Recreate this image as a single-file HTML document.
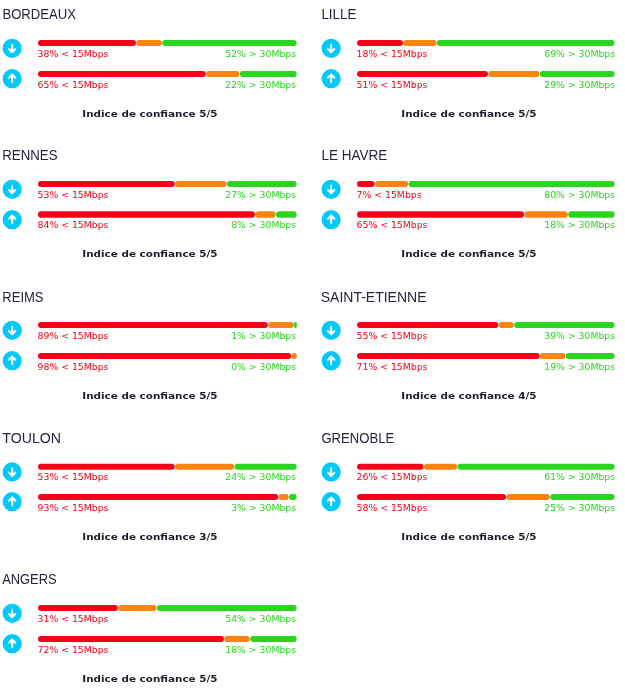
<!DOCTYPE html><html lang="fr"><head><meta charset="utf-8"><title>Débits</title><style>
html,body{margin:0;padding:0;background:#fff;}
body{width:625px;height:689px;position:relative;overflow:hidden;font-family:"DejaVu Sans","Liberation Sans",sans-serif;}
.c{position:absolute;width:306px;height:124px;}
.c svg{position:absolute;left:0;top:0;width:306px;height:100px;}
.t{position:absolute;left:1.5px;top:5.4px;font:14px/18px "Liberation Sans",sans-serif;color:#23263a;white-space:nowrap;transform-origin:0 50%;}
.r{fill:#f70018;}
.o{fill:#f9840f;}
.g{fill:#2bd420;}
.k{fill:#02c8fc;}
.a{stroke:#fff;stroke-width:2;fill:none;stroke-linecap:round;stroke-linejoin:round;}
.l{position:absolute;font:9.3px/11px "DejaVu Sans",sans-serif;white-space:nowrap;}
.lr{left:37.6px;color:#f70018;}
.lg{right:9.9px;color:#2bd420;text-align:right;}
.ind{position:absolute;left:-0.7px;width:301px;text-align:center;top:106.8px;font:bold 9.4px/13px "DejaVu Sans",sans-serif;color:#1c1c28;}
.ind span{display:inline-block;transform:scaleX(1.11);}
</style></head><body>
<div class="c" style="left:0px;top:0px">
<div class="t" style="margin-top:0px;transform:translateX(0.40px) scaleX(0.9360)">BORDEAUX</div>
<svg viewBox="0 0 306 100"><circle class="k" cx="12.15" cy="48.30" r="9.6"/><path class="a" d="M12.15 44.70V52.30M8.95 49.00L12.15 52.30L15.35 49.00"/><rect class="r" x="38.00" y="40.00" width="97.96" height="6" rx="3.00"/><rect class="o" x="136.31" y="40.00" width="25.52" height="6" rx="3.00"/><rect class="g" x="162.18" y="40.00" width="134.52" height="6" rx="3.00"/><circle class="k" cx="12.15" cy="78.70" r="9.6"/><path class="a" d="M12.15 82.30V74.50M8.95 77.80L12.15 74.50L15.35 77.80"/><rect class="r" x="38.00" y="70.90" width="167.81" height="6" rx="3.00"/><rect class="o" x="206.16" y="70.90" width="33.28" height="6" rx="3.00"/><rect class="g" x="239.79" y="70.90" width="56.91" height="6" rx="3.00"/></svg>
<div class="l lr" style="top:47.9px">38% &lt; 15Mbps</div><div class="l lg" style="top:47.9px">52% &gt; 30Mbps</div>
<div class="l lr" style="top:78.7px">65% &lt; 15Mbps</div><div class="l lg" style="top:78.7px">22% &gt; 30Mbps</div>
<div class="ind" style="margin-top:0px"><span>Indice de confiance 5/5</span></div>
</div>
<div class="c" style="left:319px;top:0px">
<div class="t" style="margin-top:0px;transform:translateX(0.40px) scaleX(0.9600)">LILLE</div>
<svg viewBox="0 0 306 100"><circle class="k" cx="12.15" cy="48.30" r="9.6"/><path class="a" d="M12.15 44.70V52.30M8.95 49.00L12.15 52.30L15.35 49.00"/><rect class="r" x="38.00" y="40.00" width="46.02" height="6" rx="3.00"/><rect class="o" x="84.37" y="40.00" width="33.14" height="6" rx="3.00"/><rect class="g" x="117.86" y="40.00" width="177.74" height="6" rx="3.00"/><circle class="k" cx="12.15" cy="78.70" r="9.6"/><path class="a" d="M12.15 82.30V74.50M8.95 77.80L12.15 74.50L15.35 77.80"/><rect class="r" x="38.00" y="70.90" width="131.03" height="6" rx="3.00"/><rect class="o" x="169.38" y="70.90" width="51.17" height="6" rx="3.00"/><rect class="g" x="220.90" y="70.90" width="74.70" height="6" rx="3.00"/></svg>
<div class="l lr" style="top:47.9px">18% &lt; 15Mbps</div><div class="l lg" style="top:47.9px">69% &gt; 30Mbps</div>
<div class="l lr" style="top:78.7px">51% &lt; 15Mbps</div><div class="l lg" style="top:78.7px">29% &gt; 30Mbps</div>
<div class="ind" style="margin-top:0px"><span>Indice de confiance 5/5</span></div>
</div>
<div class="c" style="left:0px;top:141px">
<div class="t" style="margin-top:0px;transform:translateX(0.30px) scaleX(0.9460)">RENNES</div>
<svg viewBox="0 0 306 100"><circle class="k" cx="12.15" cy="48.30" r="9.6"/><path class="a" d="M12.15 44.70V52.30M8.95 49.00L12.15 52.30L15.35 49.00"/><rect class="r" x="38.00" y="40.00" width="136.76" height="6" rx="3.00"/><rect class="o" x="175.11" y="40.00" width="51.39" height="6" rx="3.00"/><rect class="g" x="226.85" y="40.00" width="69.85" height="6" rx="3.00"/><circle class="k" cx="12.15" cy="78.70" r="9.6"/><path class="a" d="M12.15 82.30V74.50M8.95 77.80L12.15 74.50L15.35 77.80"/><rect class="r" x="38.00" y="70.15" width="216.96" height="6.7" rx="3.35"/><rect class="o" x="255.31" y="70.15" width="20.35" height="6.7" rx="3.35"/><rect class="g" x="276.00" y="70.15" width="20.70" height="6.7" rx="3.35"/></svg>
<div class="l lr" style="top:47.9px">53% &lt; 15Mbps</div><div class="l lg" style="top:47.9px">27% &gt; 30Mbps</div>
<div class="l lr" style="top:77.7px">84% &lt; 15Mbps</div><div class="l lg" style="top:77.7px">8% &gt; 30Mbps</div>
<div class="ind" style="margin-top:-1px"><span>Indice de confiance 5/5</span></div>
</div>
<div class="c" style="left:319px;top:141px">
<div class="t" style="margin-top:0px;transform:translateX(0.40px) scaleX(0.9640)">LE HAVRE</div>
<svg viewBox="0 0 306 100"><circle class="k" cx="12.15" cy="48.30" r="9.6"/><path class="a" d="M12.15 44.70V52.30M8.95 49.00L12.15 52.30L15.35 49.00"/><rect class="r" x="38.00" y="40.00" width="17.68" height="6" rx="3.00"/><rect class="o" x="56.03" y="40.00" width="33.14" height="6" rx="3.00"/><rect class="g" x="89.52" y="40.00" width="206.08" height="6" rx="3.00"/><circle class="k" cx="12.15" cy="78.70" r="9.6"/><path class="a" d="M12.15 82.30V74.50M8.95 77.80L12.15 74.50L15.35 77.80"/><rect class="r" x="38.00" y="70.15" width="167.09" height="6.7" rx="3.35"/><rect class="o" x="205.44" y="70.15" width="43.44" height="6.7" rx="3.35"/><rect class="g" x="249.23" y="70.15" width="46.37" height="6.7" rx="3.35"/></svg>
<div class="l lr" style="top:47.9px">7% &lt; 15Mbps</div><div class="l lg" style="top:47.9px">80% &gt; 30Mbps</div>
<div class="l lr" style="top:77.7px">65% &lt; 15Mbps</div><div class="l lg" style="top:77.7px">18% &gt; 30Mbps</div>
<div class="ind" style="margin-top:-1px"><span>Indice de confiance 5/5</span></div>
</div>
<div class="c" style="left:0px;top:282px">
<div class="t" style="margin-top:1px;transform:translateX(0.30px) scaleX(0.9300)">REIMS</div>
<svg viewBox="0 0 306 100"><circle class="k" cx="12.15" cy="48.30" r="9.6"/><path class="a" d="M12.15 44.70V52.30M8.95 49.00L12.15 52.30L15.35 49.00"/><rect class="r" x="38.00" y="40.00" width="229.89" height="6" rx="3.00"/><rect class="o" x="268.24" y="40.00" width="25.52" height="6" rx="3.00"/><rect class="g" x="294.11" y="40.00" width="2.59" height="6" rx="1.29"/><circle class="k" cx="12.15" cy="78.70" r="9.6"/><path class="a" d="M12.15 82.30V74.50M8.95 77.80L12.15 74.50L15.35 77.80"/><rect class="r" x="38.00" y="70.90" width="253.18" height="6" rx="3.00"/><rect class="o" x="291.53" y="70.90" width="5.17" height="6" rx="2.59"/></svg>
<div class="l lr" style="top:47.9px">89% &lt; 15Mbps</div><div class="l lg" style="top:47.9px">1% &gt; 30Mbps</div>
<div class="l lr" style="top:78.7px">98% &lt; 15Mbps</div><div class="l lg" style="top:78.7px">0% &gt; 30Mbps</div>
<div class="ind" style="margin-top:0px"><span>Indice de confiance 5/5</span></div>
</div>
<div class="c" style="left:319px;top:282px">
<div class="t" style="margin-top:1px;transform:translateX(0.20px) scaleX(1.0000)">SAINT-ETIENNE</div>
<svg viewBox="0 0 306 100"><circle class="k" cx="12.15" cy="48.30" r="9.6"/><path class="a" d="M12.15 44.70V52.30M8.95 49.00L12.15 52.30L15.35 49.00"/><rect class="r" x="38.00" y="40.00" width="141.33" height="6" rx="3.00"/><rect class="o" x="179.68" y="40.00" width="15.11" height="6" rx="3.00"/><rect class="g" x="195.14" y="40.00" width="100.46" height="6" rx="3.00"/><circle class="k" cx="12.15" cy="78.70" r="9.6"/><path class="a" d="M12.15 82.30V74.50M8.95 77.80L12.15 74.50L15.35 77.80"/><rect class="r" x="38.00" y="70.90" width="182.55" height="6" rx="3.00"/><rect class="o" x="220.90" y="70.90" width="25.41" height="6" rx="3.00"/><rect class="g" x="246.66" y="70.90" width="48.94" height="6" rx="3.00"/></svg>
<div class="l lr" style="top:47.9px">55% &lt; 15Mbps</div><div class="l lg" style="top:47.9px">39% &gt; 30Mbps</div>
<div class="l lr" style="top:78.7px">71% &lt; 15Mbps</div><div class="l lg" style="top:78.7px">19% &gt; 30Mbps</div>
<div class="ind" style="margin-top:0px"><span>Indice de confiance 4/5</span></div>
</div>
<div class="c" style="left:0px;top:423px">
<div class="t" style="margin-top:1px;transform:translateX(0.30px) scaleX(1.0100)">TOULON</div>
<svg viewBox="0 0 306 100"><circle class="k" cx="12.15" cy="48.95" r="9.6"/><path class="a" d="M12.15 45.35V52.95M8.95 49.65L12.15 52.95L15.35 49.65"/><rect class="r" x="38.00" y="40.65" width="136.76" height="6" rx="3.00"/><rect class="o" x="175.11" y="40.65" width="59.15" height="6" rx="3.00"/><rect class="g" x="234.61" y="40.65" width="62.09" height="6" rx="3.00"/><circle class="k" cx="12.15" cy="78.70" r="9.6"/><path class="a" d="M12.15 82.30V74.50M8.95 77.80L12.15 74.50L15.35 77.80"/><rect class="r" x="38.00" y="70.90" width="240.24" height="6" rx="3.00"/><rect class="o" x="278.59" y="70.90" width="10.00" height="6" rx="3.00"/><rect class="g" x="288.94" y="70.90" width="7.76" height="6" rx="3.00"/></svg>
<div class="l lr" style="top:47.9px">53% &lt; 15Mbps</div><div class="l lg" style="top:47.9px">24% &gt; 30Mbps</div>
<div class="l lr" style="top:78.7px">93% &lt; 15Mbps</div><div class="l lg" style="top:78.7px">3% &gt; 30Mbps</div>
<div class="ind" style="margin-top:0px"><span>Indice de confiance 3/5</span></div>
</div>
<div class="c" style="left:319px;top:423px">
<div class="t" style="margin-top:1px;transform:translateX(0.40px) scaleX(0.9380)">GRENOBLE</div>
<svg viewBox="0 0 306 100"><circle class="k" cx="12.15" cy="48.95" r="9.6"/><path class="a" d="M12.15 45.35V52.95M8.95 49.65L12.15 52.95L15.35 49.65"/><rect class="r" x="38.00" y="40.65" width="66.63" height="6" rx="3.00"/><rect class="o" x="104.98" y="40.65" width="33.14" height="6" rx="3.00"/><rect class="g" x="138.46" y="40.65" width="157.14" height="6" rx="3.00"/><circle class="k" cx="12.15" cy="78.70" r="9.6"/><path class="a" d="M12.15 82.30V74.50M8.95 77.80L12.15 74.50L15.35 77.80"/><rect class="r" x="38.00" y="70.90" width="149.06" height="6" rx="3.00"/><rect class="o" x="187.41" y="70.90" width="43.44" height="6" rx="3.00"/><rect class="g" x="231.20" y="70.90" width="64.40" height="6" rx="3.00"/></svg>
<div class="l lr" style="top:47.9px">26% &lt; 15Mbps</div><div class="l lg" style="top:47.9px">61% &gt; 30Mbps</div>
<div class="l lr" style="top:78.7px">58% &lt; 15Mbps</div><div class="l lg" style="top:78.7px">25% &gt; 30Mbps</div>
<div class="ind" style="margin-top:0px"><span>Indice de confiance 5/5</span></div>
</div>
<div class="c" style="left:0px;top:565px">
<div class="t" style="margin-top:0px;transform:translateX(0.20px) scaleX(0.9200)">ANGERS</div>
<svg viewBox="0 0 306 100"><circle class="k" cx="12.15" cy="48.30" r="9.6"/><path class="a" d="M12.15 44.70V52.30M8.95 49.00L12.15 52.30L15.35 49.00"/><rect class="r" x="38.00" y="40.00" width="79.85" height="6" rx="3.00"/><rect class="o" x="118.20" y="40.00" width="38.45" height="6" rx="3.00"/><rect class="g" x="157.00" y="40.00" width="139.70" height="6" rx="3.00"/><circle class="k" cx="12.15" cy="78.70" r="9.6"/><path class="a" d="M12.15 82.30V74.50M8.95 77.80L12.15 74.50L15.35 77.80"/><rect class="r" x="38.00" y="70.90" width="185.91" height="6" rx="3.00"/><rect class="o" x="224.26" y="70.90" width="25.52" height="6" rx="3.00"/><rect class="g" x="250.13" y="70.90" width="46.57" height="6" rx="3.00"/></svg>
<div class="l lr" style="top:47.9px">31% &lt; 15Mbps</div><div class="l lg" style="top:47.9px">54% &gt; 30Mbps</div>
<div class="l lr" style="top:78.7px">72% &lt; 15Mbps</div><div class="l lg" style="top:78.7px">18% &gt; 30Mbps</div>
<div class="ind" style="margin-top:0px"><span>Indice de confiance 5/5</span></div>
</div>
</body></html>
